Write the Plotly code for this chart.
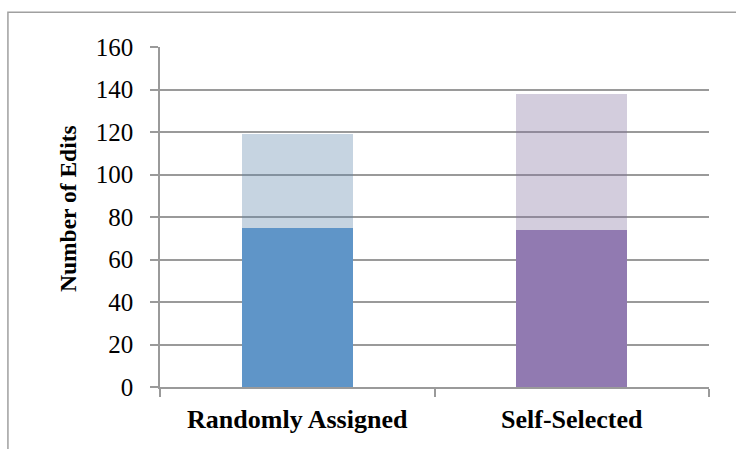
import plotly.graph_objects as go

# Edit counts per assignment condition
groups = ["Randomly Assigned", "Self-Selected"]
base_edits = [75, 74]
total_edits = [119, 138]
y_ticks = [0, 20, 40, 60, 80, 100, 120, 140, 160]
y_title = "Number of Edits"

extra_edits = [t - b for t, b in zip(total_edits, base_edits)]

solid_colors = ["#5F95C8", "#917AB1"]
pale_colors = ["rgba(92,132,169,0.35)", "rgba(129,112,158,0.35)"]

fig = go.Figure()
fig.add_trace(go.Bar(
    x=groups, y=base_edits, marker=dict(color=solid_colors, line=dict(width=0)),
    width=0.405, hoverinfo="skip", showlegend=False,
))
fig.add_trace(go.Bar(
    x=groups, y=extra_edits, marker=dict(color=pale_colors, line=dict(width=0)),
    width=0.405, hoverinfo="skip", showlegend=False,
))

serif = "Liberation Serif, Times New Roman, serif"
fig.update_layout(
    width=736, height=449,
    margin=dict(l=160, r=27, t=47, b=62),
    barmode="stack",
    plot_bgcolor="white", paper_bgcolor="white",
    font=dict(family=serif, color="black"),
    shapes=[dict(
        type="rect", xref="paper", yref="paper",
        x0=-0.277, x1=1.2, y0=-0.4, y1=1.102,
        line=dict(color="#A0A0A0", width=1.5), fillcolor="rgba(0,0,0,0)", layer="below",
    )],
    annotations=[dict(
        text=y_title, textangle=-90, showarrow=False,
        xref="paper", yref="paper", x=0, y=0.5,
        xanchor="center", yanchor="middle", xshift=-92, yshift=8,
        font=dict(family=serif, size=23.5, color="black", weight="bold"),
    )],
)
fig.update_xaxes(
    range=[-0.5, 1.5],
    showline=True, linecolor="#9A9A9A", linewidth=1.5,
    ticks="outside", tickson="boundaries", ticklen=8, tickwidth=1.5, tickcolor="#9A9A9A",
    ticklabelstandoff=8,
    tickfont=dict(family=serif, size=26, color="black", weight="bold"),
    showgrid=False,
)
fig.update_yaxes(
    range=[0, 160], tickvals=y_ticks,
    showline=True, linecolor="#9A9A9A", linewidth=1.5,
    ticks="outside", ticklen=8, tickwidth=1.5, tickcolor="#9A9A9A",
    ticklabelstandoff=12,
    tickfont=dict(family=serif, size=25, color="black"),
    showgrid=True, gridcolor="#9A9A9A", gridwidth=1.5,
    zeroline=False,
)

fig.write_html("out.html")
